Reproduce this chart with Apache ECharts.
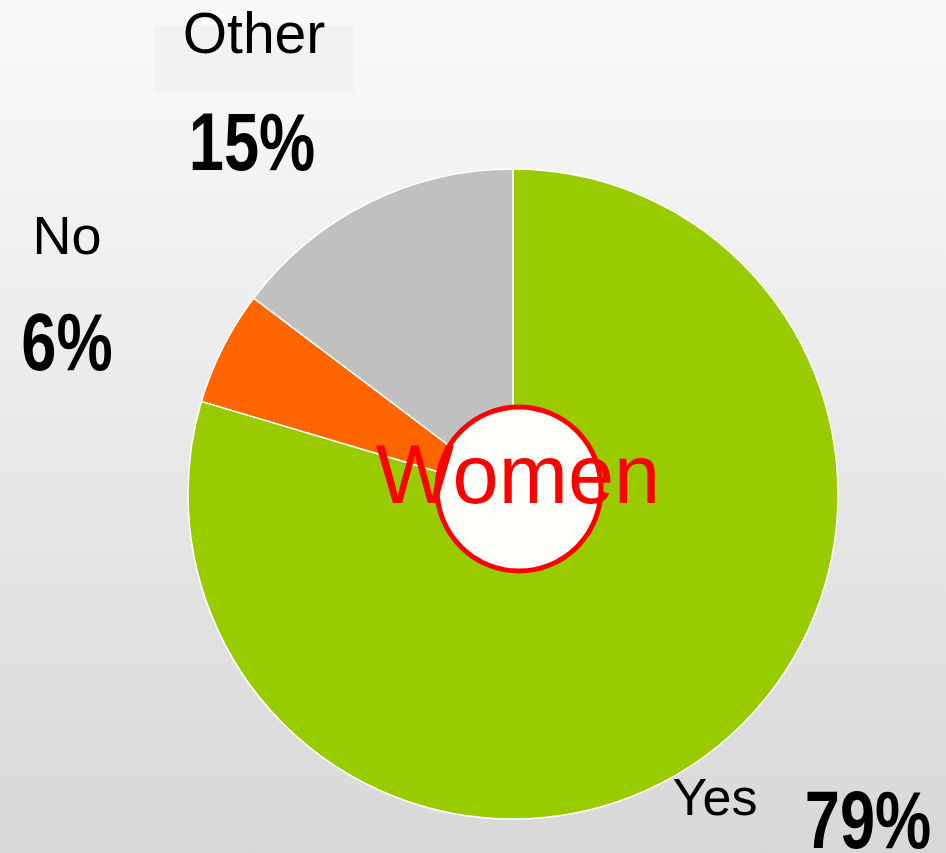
<!DOCTYPE html>
<html>
<head>
<meta charset="utf-8">
<script src="https://cdn.jsdelivr.net/npm/echarts@6/dist/echarts.min.js"></script>
<style>
  html, body { margin: 0; padding: 0; }
  #chart { width: 946px; height: 853px; background: linear-gradient(to bottom, #fafafa 0%, #d8d8d8 100%); }
</style>
</head>
<body>
<div id="chart"></div>
<script>
// ---- data ----
var categories = ['Yes', 'No', 'Other'];
var values = [79.6, 5.7, 14.7];          // slice sizes
var pctLabels = ['79%', '6%', '15%'];     // percentage labels as printed
var colors = ['#99CC00', '#FF6600', '#C0C0C0'];
var centerTitle = 'Women';

// ---- label layout (positions only) ----
var namePos = [
  { x: 715, y: 801, fontSize: 52 },
  { x: 67, y: 239, fontSize: 54 },
  { x: 254, y: 37, fontSize: 57 }
];
var pctPos = [
  { x: 868, y: 826 },
  { x: 67, y: 348 },
  { x: 252, y: 148 }
];

var baseFont = "'Liberation Sans', Arial, sans-serif";

var seriesData = categories.map(function (c, i) {
  return {
    name: c,
    value: values[i],
    itemStyle: { color: colors[i] },
    label: {
      show: true,
      position: 'outside',
      formatter: '{b}',
      fontSize: namePos[i].fontSize,
      fontFamily: baseFont,
      color: '#000'
    }
  };
});

var graphics = [
  {
    type: 'rect',
    shape: { x: 154, y: 25, width: 200, height: 68 },
    style: { fill: '#f2f2f2' },
    z: -1
  },
  {
    type: 'circle',
    shape: { cx: 519, cy: 489, r: 82 },
    style: { fill: '#fffffa', stroke: '#ff0000', lineWidth: 5 },
    z: 100
  },
  {
    type: 'text',
    x: 518,
    y: 480,
    z: 101,
    style: {
      text: centerTitle,
      fill: '#ff0000',
      font: "83px 'Liberation Sans', Arial, sans-serif",
      align: 'center',
      verticalAlign: 'middle'
    }
  }
];
pctLabels.forEach(function (t, i) {
  graphics.push({
    type: 'text',
    x: pctPos[i].x,
    y: pctPos[i].y,
    scaleX: 0.78,
    z: 50,
    style: {
      text: t,
      fill: '#000',
      font: "bold 81px 'Liberation Sans', Arial, sans-serif",
      align: 'center',
      verticalAlign: 'middle'
    }
  });
});

var chart = echarts.init(document.getElementById('chart'), null, { renderer: 'canvas' });
chart.setOption({
  backgroundColor: 'transparent',
  animation: false,
  series: [{
    type: 'pie',
    center: [513, 494],
    radius: [0, 325],
    startAngle: 90,
    clockwise: true,
    avoidLabelOverlap: false,
    silent: true,
    itemStyle: { borderColor: '#ffffff', borderWidth: 1.5 },
    labelLine: { show: false },
    emphasis: { disabled: true },
    labelLayout: function (params) {
      var p = namePos[params.dataIndex];
      return { x: p.x, y: p.y, align: 'center', verticalAlign: 'middle' };
    },
    data: seriesData
  }],
  graphic: graphics
});
</script>
</body>
</html>
